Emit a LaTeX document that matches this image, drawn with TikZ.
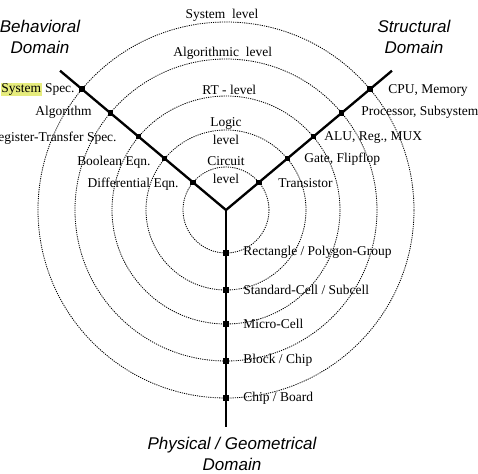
\documentclass[tikz,border=0pt]{standalone}
\usepackage{fontspec}
\setmainfont{Liberation Serif}
\newfontfamily\domfont{Liberation Sans}
\definecolor{marker}{RGB}{230,236,125}
\tikzset{
  ring/.style={dash pattern=on 1pt off 0.9pt, line width=0.7pt},
  arm/.style={line width=2pt},
  dot/.style={fill, inner sep=0pt, minimum size=1.6mm},
  lbl/.style={font=\fontsize{11.5}{15}\selectfont, inner sep=1pt},
  dom/.style={font=\domfont\itshape\fontsize{14.5}{17.4}\selectfont, align=center}
}
\begin{document}
\begin{tikzpicture}
  \useasboundingbox (-6.78,-7.89) rectangle (7.56,6.3);
  \coordinate (c) at (0,0);
  \coordinate (eb) at (140:6.5);
  \coordinate (es) at (40:6.5);
  \coordinate (ep) at (270:6.5);
  % levels
  \foreach \r in {1.29,2.4,3.42,4.53,5.64}
    \draw[ring] (c) circle (\r);
  % domains
  \draw[arm] (eb) -- (c) -- (es);
  \draw[arm] (c) -- (ep);
  \foreach \r [count=\i] in {1.29,2.4,3.42,4.53,5.64}{
    \node[dot] (b\i) at (140:\r) {};
    \node[dot] (s\i) at (40:\r) {};
    \node[dot] (p\i) at (270:\r) {};
  }
  % level names
  \node[lbl] (sys) at (-0.12,5.85) {System\ \ level};
  \node[lbl] (alg) at (-0.1,4.71) {Algorithmic\ \ level};
  \node[lbl] (rtl) at (0.1,3.6) {RT - level};
  \node[lbl, align=center] (logic) at (0,2.36) {Logic\\level};
  \node[lbl, align=center] (circ) at (0,1.19) {Circuit\\level};
  % behavioral
  \node[lbl, anchor=east] (bl5) at (-4.5,3.63) {{\setlength{\fboxsep}{0.5pt}\colorbox{marker}{System}} Spec.};
  \node[lbl, anchor=east] (bl4) at (-3.99,2.92) {Algorithm};
  \node[lbl, anchor=east] (bl3) at (-3.24,2.16) {Register-Transfer Spec.};
  \node[lbl, anchor=east] (bl2) at (-2.22,1.42) {Boolean Eqn.};
  \node[lbl, anchor=east] (bl1) at (-1.38,0.78) {Differential Eqn.};
  % structural
  \node[lbl, anchor=west] (sl5) at (4.83,3.6) {CPU, Memory};
  \node[lbl, anchor=west] (sl4) at (4.02,2.92) {Processor, Subsystem};
  \node[lbl, anchor=west] (sl3) at (2.91,2.16) {ALU, Reg., MUX};
  \node[lbl, anchor=west] (sl2) at (2.31,1.53) {Gate, Flipflop};
  \node[lbl, anchor=west] (sl1) at (1.53,0.81) {Transistor};
  % physical
  \node[lbl, anchor=west] (pl1) at (0.48,-1.26) {Rectangle / Polygon-Group};
  \node[lbl, anchor=west] (pl2) at (0.48,-2.4) {Standard-Cell / Subcell};
  \node[lbl, anchor=west] (pl3) at (0.48,-3.42) {Micro-Cell};
  \node[lbl, anchor=west] (pl4) at (0.48,-4.5) {Block / Chip};
  \node[lbl, anchor=west] (pl5) at (0.48,-5.64) {Chip / Board};
  % domain names
  \node[dom] (beh) at (-5.58,5.19) {Behavioral\\Domain};
  \node[dom] (str) at (5.64,5.19) {Structural\\Domain};
  \node[dom] (phy) at (0.18,-7.32) {Physical / Geometrical\\Domain};
\end{tikzpicture}
\end{document}
